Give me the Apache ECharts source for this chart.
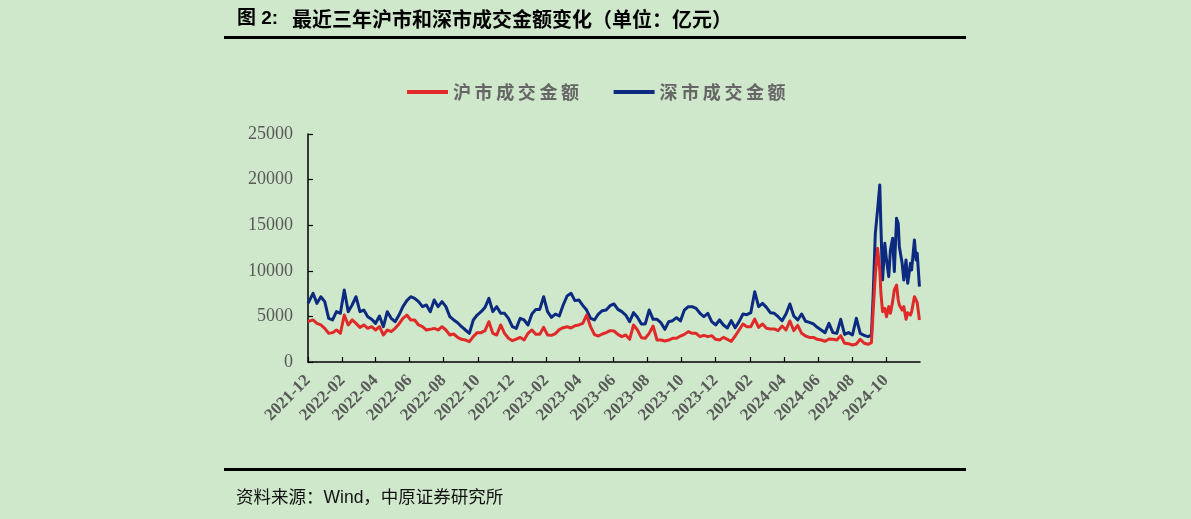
<!DOCTYPE html>
<html>
<head>
<meta charset="utf-8">
<script src="https://cdn.jsdelivr.net/npm/echarts@6/dist/echarts.min.js"></script>
<style>
  html, body { margin: 0; padding: 0; background: #cfe8cb; }
  #chart { width: 1191px; height: 519px; }
</style>
</head>
<body>
<div id="chart"></div>
<script>
// ---- data (亿元) ----
const dates = [
  '2021-12-01','2021-12-10','2021-12-17','2021-12-24','2021-12-31',
  '2022-01-07','2022-01-14','2022-01-21','2022-01-28',
  '2022-02-04','2022-02-11','2022-02-18','2022-02-25',
  '2022-03-04','2022-03-11','2022-03-18','2022-03-25',
  '2022-04-01','2022-04-08','2022-04-15','2022-04-22','2022-04-29',
  '2022-05-06','2022-05-13','2022-05-20','2022-05-27',
  '2022-06-03','2022-06-10','2022-06-17','2022-06-24',
  '2022-07-01','2022-07-08','2022-07-15','2022-07-22','2022-07-29',
  '2022-08-05','2022-08-12','2022-08-19','2022-08-26',
  '2022-09-02','2022-09-09','2022-09-16','2022-09-23','2022-09-30',
  '2022-10-07','2022-10-14','2022-10-21','2022-10-28',
  '2022-11-04','2022-11-11','2022-11-18','2022-11-25',
  '2022-12-02','2022-12-09','2022-12-16','2022-12-23','2022-12-30',
  '2023-01-06','2023-01-13','2023-01-20','2023-01-27',
  '2023-02-03','2023-02-10','2023-02-17','2023-02-24',
  '2023-03-03','2023-03-10','2023-03-17','2023-03-24','2023-03-31',
  '2023-04-07','2023-04-14','2023-04-21','2023-04-28',
  '2023-05-05','2023-05-12','2023-05-19','2023-05-26',
  '2023-06-02','2023-06-09','2023-06-16','2023-06-23','2023-06-30',
  '2023-07-07','2023-07-14','2023-07-21','2023-07-28',
  '2023-08-04','2023-08-11','2023-08-18','2023-08-25',
  '2023-09-01','2023-09-08','2023-09-15','2023-09-22','2023-09-29',
  '2023-10-06','2023-10-13','2023-10-20','2023-10-27',
  '2023-11-03','2023-11-10','2023-11-17','2023-11-24',
  '2023-12-01','2023-12-08','2023-12-15','2023-12-22','2023-12-29',
  '2024-01-05','2024-01-12','2024-01-19','2024-01-26',
  '2024-02-02','2024-02-09','2024-02-16','2024-02-23',
  '2024-03-01','2024-03-08','2024-03-15','2024-03-22','2024-03-29',
  '2024-04-05','2024-04-12','2024-04-19','2024-04-26',
  '2024-05-03','2024-05-10','2024-05-17','2024-05-24','2024-05-31',
  '2024-06-07','2024-06-14','2024-06-21','2024-06-28',
  '2024-07-05','2024-07-12','2024-07-19','2024-07-26',
  '2024-08-02','2024-08-09','2024-08-16','2024-08-23','2024-08-30',
  '2024-09-02','2024-09-05','2024-09-08','2024-09-12','2024-09-16','2024-09-20',
  '2024-09-22','2024-09-25','2024-09-29',
  '2024-10-02','2024-10-06','2024-10-09','2024-10-13','2024-10-16','2024-10-20',
  '2024-10-23','2024-10-25','2024-10-30',
  '2024-11-02','2024-11-06','2024-11-09','2024-11-14','2024-11-16','2024-11-21',
  '2024-11-24','2024-11-26','2024-11-30'
];

const shanghai = [
  4420,4610,4240,4060,3690,
  3140,3220,3510,3140,
  5150,4060,4610,4240,
  3800,4060,3690,3870,
  3510,3870,2960,3510,3330,
  3690,4170,4790,5150,
  4610,4610,4060,3870,
  3510,3580,3690,3510,3870,
  3510,2960,3070,2700,
  2490,2410,2230,2780,3220,
  3220,3440,4420,3140,
  2960,4060,3140,2600,
  2340,2520,2700,2410,3140,
  3510,3030,3030,3800,
  2960,2920,3110,3550,
  3760,3870,3730,3980,4060,
  4240,5150,3870,3000,
  2850,3070,3220,3440,
  3400,3030,2780,2960,2490,
  4060,3510,2670,2600,
  3140,3950,2410,2410,
  2300,2410,2600,2600,2850,
  3030,3330,3140,3140,
  2780,2920,2780,2890,
  2490,2410,2700,2490,2270,
  2850,3510,4170,3870,
  3870,4710,3800,4170,
  3690,3620,3620,3440,3950,
  3510,4500,3440,4020,
  3140,2850,2700,2700,2490,
  2410,2270,2520,2490,
  2410,2890,2050,2010,
  1860,1970,2490,2050,1940,
  1970,2120,5520,9540,12460,10090,
  7530,5520,5880,
  4970,6070,5340,6620,7900,8440,
  6800,6250,5700,
  6070,4680,5410,5150,5520,7160,
  6800,6510,4610
];

const shenzhen = [
  6430,7530,6430,7160,6620,
  4790,4610,5520,5340,
  7900,5520,6250,7160,
  5520,5700,4970,4680,
  4240,5040,3870,5520,4790,
  4420,5150,6070,6730,
  7160,6980,6620,6070,
  6250,5520,6800,6070,6620,
  6070,4970,4610,4310,
  3870,3510,3140,4610,5150,
  5520,5990,6980,5520,
  6070,5340,5340,4790,
  3870,3690,4790,4610,4060,
  5260,5770,5770,7160,
  5520,4900,5260,5040,
  6250,7240,7530,6730,6800,
  6210,5700,4790,4610,
  5260,5630,5700,6180,
  6360,5770,5520,5150,4420,
  5410,4900,4170,4170,
  5700,4680,4680,4310,
  3580,4420,4530,4860,4500,
  5700,6070,6070,5880,
  5340,4970,5340,4420,
  4060,4610,4060,3730,4530,
  3760,4420,5260,5190,
  5410,7710,6070,6430,
  5990,5410,5340,4970,4530,
  5260,6360,5040,4610,
  5260,4460,4350,4170,3800,
  3510,3220,4240,3220,
  3140,4680,3030,3220,
  2960,4790,3140,2920,2780,
  2850,2960,7160,14110,16670,19410,
  14840,8990,13010,
  11180,9360,12280,13560,9910,15750,
  15200,12650,10820,
  8990,11180,8630,10820,10090,13380,
  11180,11920,8260
];

const xTickLabels = [
  '2021-12','2022-02','2022-04','2022-06','2022-08','2022-10','2022-12',
  '2023-02','2023-04','2023-06','2023-08','2023-10','2023-12',
  '2024-02','2024-04','2024-06','2024-08','2024-10'
];
const xStart = '2021-12';
const xEnd = '2024-12';

const seriesNames = ['沪市成交金额', '深市成交金额'];
const titleNo = '图 2:';
const titleText = '最近三年沪市和深市成交金额变化（单位：亿元）';
const sourceText = '资料来源：Wind，中原证券研究所';

// ---- helpers (dates -> day timestamps on a linear value axis) ----
function monthStart(ym) {
  return Date.UTC(+ym.slice(0, 4), +ym.slice(5, 7) - 1, 1);
}
function dayStamp(s) {
  return Date.UTC(+s.slice(0, 4), +s.slice(5, 7) - 1, +s.slice(8, 10));
}
function fmtYM(v) {
  const d = new Date(v);
  return d.getUTCFullYear() + '-' + String(d.getUTCMonth() + 1).padStart(2, '0');
}
const tickValues = xTickLabels.map(monthStart);

const chart = echarts.init(document.getElementById('chart'), null, { renderer: 'canvas' });

const GRAY = '#595959';
const legendRich = {
  c: { width: 21.6, align: 'left', fontSize: 18, fontWeight: 'bold', fontFamily: '"Noto Sans CJK SC"', color: '#666666', lineHeight: 22 }
};

chart.setOption({
  backgroundColor: '#cfe8cb',
  animation: false,
  legend: {
    top: 78,
    left: 402,
    padding: 5,
    icon: 'rect',
    itemWidth: 41,
    itemHeight: 4,
    itemGap: 31,
    data: seriesNames,
    formatter: function (name) {
      return name.split('').map(function (ch) { return '{c|' + ch + '}'; }).join('');
    },
    textStyle: { rich: legendRich, color: GRAY }
  },
  grid: { left: 308, top: 134, width: 612, height: 228, containLabel: false },
  xAxis: {
    type: 'value',
    min: monthStart(xStart),
    max: monthStart(xEnd),
    axisLine: { show: true, onZero: false, lineStyle: { color: '#000', width: 1.5 } },
    axisTick: { show: true, inside: true, length: 5, lineStyle: { color: '#000', width: 1.2 }, customValues: tickValues },
    axisLabel: {
      customValues: tickValues,
      formatter: fmtYM,
      rotate: 45,
      margin: 16,
      color: GRAY,
      fontFamily: '"Liberation Serif"',
      fontWeight: 'bold',
      fontSize: 17,
      hideOverlap: false
    },
    splitLine: { show: false }
  },
  yAxis: {
    type: 'value',
    min: 0,
    max: 25000,
    interval: 5000,
    axisLine: { show: true, lineStyle: { color: '#000', width: 1.5 } },
    axisTick: { show: true, inside: true, length: 5, lineStyle: { color: '#000', width: 1.2 } },
    axisLabel: { margin: 15, color: GRAY, fontFamily: '"Liberation Serif"', fontSize: 18, formatter: function (v) { return String(v); } },
    splitLine: { show: false }
  },
  series: [
    {
      name: seriesNames[0],
      type: 'line',
      z: 3,
      showSymbol: false,
      data: dates.map(function (d, i) { return [dayStamp(d), shanghai[i]]; }),
      lineStyle: { color: '#e02a2a', width: 3, join: 'round' },
      itemStyle: { color: '#e02a2a' }
    },
    {
      name: seriesNames[1],
      type: 'line',
      z: 2,
      showSymbol: false,
      data: dates.map(function (d, i) { return [dayStamp(d), shenzhen[i]]; }),
      lineStyle: { color: '#0c2a80', width: 3, join: 'round' },
      itemStyle: { color: '#0c2a80' }
    }
  ],
  graphic: [
    { type: 'text', x: 237, y: 19, style: { text: titleNo, fontSize: 19, fontWeight: 'bold', fontFamily: '"Liberation Sans", "Noto Sans CJK SC"', fill: '#000', verticalAlign: 'middle' } },
    { type: 'text', x: 292, y: 19, style: { text: titleText, fontSize: 20, fontWeight: 'bold', fontFamily: '"Noto Sans CJK SC"', fill: '#000', verticalAlign: 'middle' } },
    { type: 'rect', shape: { x: 224, y: 36, width: 742, height: 3 }, style: { fill: '#000' } },
    { type: 'rect', shape: { x: 224, y: 468, width: 742, height: 3 }, style: { fill: '#000' } },
    { type: 'text', x: 236, y: 498, style: { text: sourceText, fontSize: 17.5, fontFamily: '"Liberation Sans", "Noto Sans CJK SC"', fill: '#111', verticalAlign: 'middle' } }
  ]
});
</script>
</body>
</html>
